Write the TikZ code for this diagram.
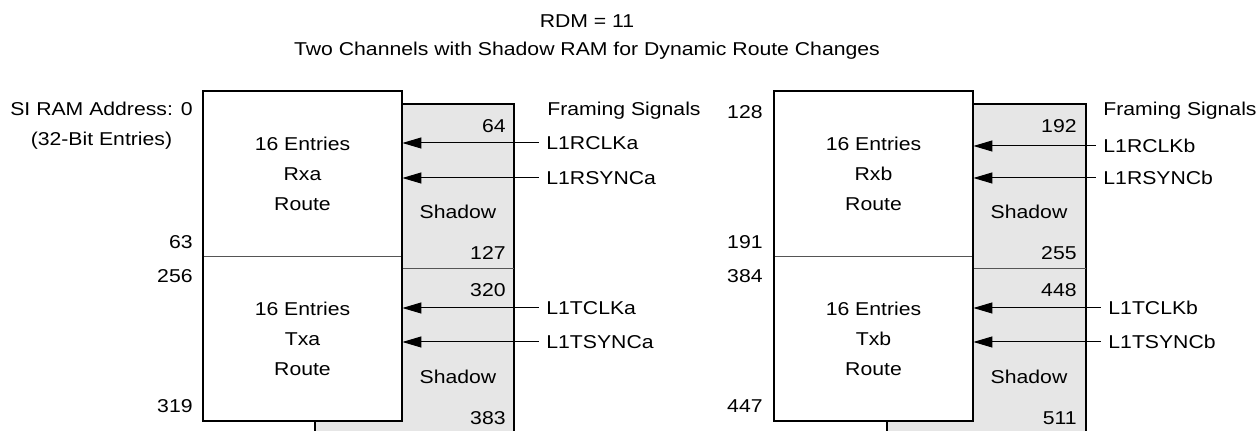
\documentclass[tikz,border=0pt]{standalone}
\usepackage{fontspec}
\setmainfont[FakeStretch=1.14]{Liberation Sans}
\usetikzlibrary{arrows.meta}
\definecolor{shadowgray}{HTML}{E6E6E6}
\definecolor{divgray}{HTML}{555555}

\begin{document}
\begin{tikzpicture}[x=0.5pt,y=-0.5pt,
  every node/.style={font=\fontsize{9.3}{15}\selectfont,inner sep=0pt},
  route/.style={fill=white,minimum width=99.5pt,minimum height=82.2pt,align=center},
  edge/.style={line width=1pt,black},
  divider/.style={line width=0.5pt,divgray},
  siglabel/.style={anchor=west,inner xsep=3.5pt},
  sig/.style={{Triangle[length=9.5pt,width=5.5pt]}-,line width=0.5pt}]
\useasboundingbox (0,0) rectangle (1256,431);

% title
\node (rdm) at (587,21.5) {RDM = 11};
\node (title) at (587,51) {Two Channels with Shadow RAM for Dynamic Route Changes};

% channel a: shadow RAM
\fill[shadowgray] (315,104) rectangle (514,440);
\draw[edge] (315,440) -- (315,104) -- (514,104) -- (514,440);
\draw[divider] (402,269) -- (514,269);
\node (sha) at (458,212) {Shadow};
\node (sta) at (458,377) {Shadow};
\node[anchor=east] (n64) at (506,126) {64};
\node[anchor=east] (n127) at (506,253) {127};
\node[anchor=east] (n320) at (506,290) {320};
\node[anchor=east] (n383) at (506,418) {383};

% channel a: route RAM
\node[route] (rxa) at (302.5,174) {16 Entries\\Rxa\\Route};
\node[route] (txa) at (302.5,338.5) {16 Entries\\Txa\\Route};
\draw[divider] (rxa.south west) -- (rxa.south east);
\draw[edge] (rxa.north west) rectangle (txa.south east);

\node[anchor=east,align=center] (addr) at (193,126) {SI RAM Address: 0\\(32-Bit Entries)};
\node[anchor=east] (n63) at (193,242) {63};
\node[anchor=east] (n256) at (193,276) {256};
\node[anchor=east] (n319) at (193,406) {319};

% channel a: framing signals
\node[anchor=west] (frama) at (547,111) {Framing Signals};
\node[siglabel] (rclka) at (539,143) {L1RCLKa};
\node[siglabel] (rsynca) at (539,178) {L1RSYNCa};
\node[siglabel] (tclka) at (539,308) {L1TCLKa};
\node[siglabel] (tsynca) at (539,342) {L1TSYNCa};
\draw[sig] (rclka.west -| rxa.east) -- (rclka.west);
\draw[sig] (rsynca.west -| rxa.east) -- (rsynca.west);
\draw[sig] (tclka.west -| txa.east) -- (tclka.west);
\draw[sig] (tsynca.west -| txa.east) -- (tsynca.west);

% channel b: shadow RAM
\fill[shadowgray] (887,104) rectangle (1086,440);
\draw[edge] (887,440) -- (887,104) -- (1086,104) -- (1086,440);
\draw[divider] (973,269) -- (1086,269);
\node (shb) at (1029,212) {Shadow};
\node (stb) at (1029,377) {Shadow};
\node[anchor=east] (n192) at (1077,126) {192};
\node[anchor=east] (n255) at (1077,253) {255};
\node[anchor=east] (n448) at (1077,290) {448};
\node[anchor=east] (n511) at (1077,418) {511};

% channel b: route RAM
\node[route] (rxb) at (873.5,174) {16 Entries\\Rxb\\Route};
\node[route] (txb) at (873.5,338.5) {16 Entries\\Txb\\Route};
\draw[divider] (rxb.south west) -- (rxb.south east);
\draw[edge] (rxb.north west) rectangle (txb.south east);

\node[anchor=east] (n128) at (763,112) {128};
\node[anchor=east] (n191) at (763,242) {191};
\node[anchor=east] (n384) at (763,276) {384};
\node[anchor=east] (n447) at (763,406) {447};

% channel b: framing signals
\node[anchor=west] (framb) at (1103,111) {Framing Signals};
\node[siglabel] (rclkb) at (1096,146) {L1RCLKb};
\node[siglabel] (rsyncb) at (1096,178) {L1RSYNCb};
\node[siglabel] (tclkb) at (1101,308) {L1TCLKb};
\node[siglabel] (tsyncb) at (1101,342) {L1TSYNCb};
\draw[sig] (rclkb.west -| rxb.east) -- (rclkb.west);
\draw[sig] (rsyncb.west -| rxb.east) -- (rsyncb.west);
\draw[sig] (tclkb.west -| txb.east) -- (tclkb.west);
\draw[sig] (tsyncb.west -| txb.east) -- (tsyncb.west);
\end{tikzpicture}
\end{document}
